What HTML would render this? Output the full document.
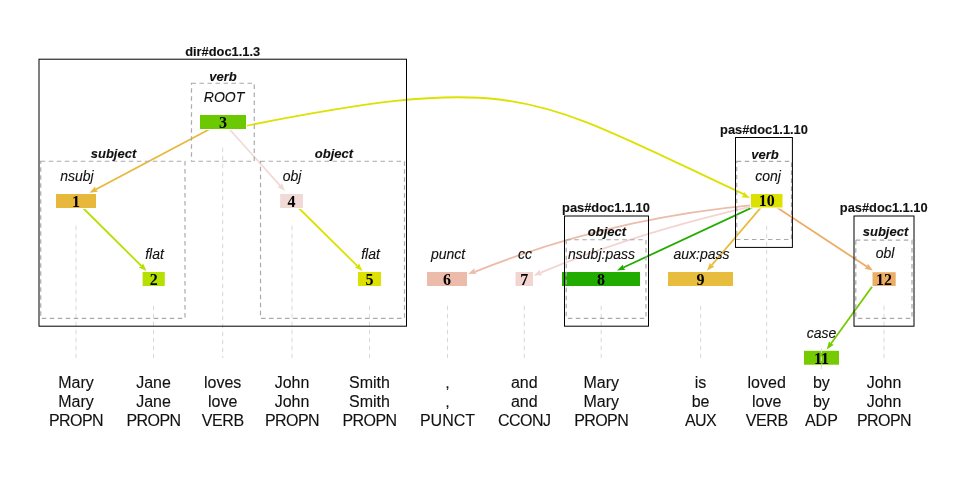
<!DOCTYPE html>
<html><head><meta charset="utf-8"><style>
html,body{margin:0;padding:0;background:#fff;}
body{width:960px;height:480px;overflow:hidden;}
svg{display:block;will-change:transform;}
.t{font-family:"Liberation Sans",sans-serif;stroke:#111;stroke-width:0.12px;}
</style></head><body>
<svg width="960" height="480" viewBox="0 0 960 480">

<line x1="223" y1="122" x2="95.68" y2="189.52" stroke="#E8B83C" stroke-width="1.8"/>
<path d="M89.5,192.8L95.16,186.4L95.68,189.52L97.97,191.7Z" fill="#E8B83C"/>
<line x1="76" y1="201" x2="141.53" y2="266.07" stroke="#B6E000" stroke-width="1.8"/>
<path d="M146.5,271L138.71,267.49L141.53,266.07L142.94,263.23Z" fill="#B6E000"/>
<line x1="223" y1="122" x2="280.32" y2="185.79" stroke="#F1D9D6" stroke-width="1.8"/>
<path d="M285,191L277.42,187.05L280.32,185.79L281.88,183.04Z" fill="#F1D9D6"/>
<line x1="291.6" y1="201" x2="357.52" y2="266.08" stroke="#DCE100" stroke-width="1.8"/>
<path d="M362.5,271L354.7,267.51L357.52,266.08L358.91,263.24Z" fill="#DCE100"/>
<line x1="766.75" y1="200.75" x2="623.35" y2="267.54" stroke="#22AC00" stroke-width="1.8"/>
<path d="M617,270.5L622.99,264.4L623.35,267.54L625.52,269.84Z" fill="#22AC00"/>
<line x1="766.75" y1="200.75" x2="711.54" y2="265.43" stroke="#E8BC3C" stroke-width="1.8"/>
<path d="M707,270.75L709.91,262.72L711.54,265.43L714.48,266.61Z" fill="#E8BC3C"/>
<line x1="766.75" y1="200.75" x2="867.05" y2="266.75" stroke="#ECAD66" stroke-width="1.8"/>
<path d="M872.9,270.6L864.57,268.71L867.05,266.75L867.87,263.7Z" fill="#ECAD66"/>
<line x1="877.6" y1="279" x2="830.89" y2="343.82" stroke="#76CA00" stroke-width="1.8"/>
<path d="M826.8,349.5L829.04,341.26L830.89,343.82L833.91,344.76Z" fill="#76CA00"/>
<path d="M241.98,126.59C520,71.33 528.92,93.85 744.07,194.34" fill="none" stroke="#DCE100" stroke-width="1.8"/>
<path d="M750,198L741.48,197.34L743.65,195.05L744.01,191.9Z" fill="#DCE100"/>
<path d="M474.78,271.79C563.48,236.2 656.9,213.92 755.05,204.94" fill="none" stroke="#EDBBAA" stroke-width="1.8"/>
<path d="M468.1,274L474.37,268.19L474.58,271.35L476.64,273.74Z" fill="#EDBBAA"/>
<path d="M540.22,272.94C600.36,247.19 671.96,224.75 755.02,205.6" fill="none" stroke="#F2D5D1" stroke-width="1.8"/>
<path d="M533.75,275.6L539.88,269.64L540.16,272.79L542.28,275.14Z" fill="#F2D5D1"/>
<rect x="55" y="193" width="42" height="16" fill="#fff"/>
<rect x="56" y="194" width="40" height="14" fill="#E8B83C"/>
<rect x="141.6" y="271" width="24.2" height="16" fill="#fff"/>
<rect x="142.6" y="272" width="22.2" height="14" fill="#B6E000"/>
<rect x="199" y="114" width="48" height="16" fill="#fff"/>
<rect x="200" y="115" width="46" height="14" fill="#6CC800"/>
<rect x="279.2" y="193" width="24.8" height="16" fill="#fff"/>
<rect x="280.2" y="194" width="22.8" height="14" fill="#F1D9D6"/>
<rect x="357" y="271" width="25" height="16" fill="#fff"/>
<rect x="358" y="272" width="23" height="14" fill="#DCE100"/>
<rect x="426" y="271" width="42" height="16" fill="#fff"/>
<rect x="427" y="272" width="40" height="14" fill="#EDBBAA"/>
<rect x="514.5" y="271" width="19.5" height="16" fill="#fff"/>
<rect x="515.5" y="272" width="17.5" height="14" fill="#F2D5D1"/>
<rect x="561" y="271" width="80" height="16" fill="#fff"/>
<rect x="562" y="272" width="78" height="14" fill="#22AC00"/>
<rect x="667" y="271" width="67" height="16" fill="#fff"/>
<rect x="668" y="272" width="65" height="14" fill="#E8BC3C"/>
<rect x="750" y="193" width="33.5" height="15.5" fill="#fff"/>
<rect x="751" y="194" width="31.5" height="13.5" fill="#DCE100"/>
<rect x="803" y="349.8" width="37" height="15.9" fill="#fff"/>
<rect x="804" y="350.8" width="35" height="13.9" fill="#76CA00"/>
<rect x="871.5" y="271.2" width="25.2" height="15.8" fill="#fff"/>
<rect x="872.5" y="272.2" width="23.2" height="13.8" fill="#ECAD66"/>
<line x1="76" y1="225.7" x2="76" y2="358" stroke="#d8d8d8" stroke-width="1" stroke-dasharray="4.5,3.5"/>
<line x1="153.5" y1="305.7" x2="153.5" y2="358" stroke="#d8d8d8" stroke-width="1" stroke-dasharray="4.5,3.5"/>
<line x1="222.7" y1="147.7" x2="222.7" y2="358" stroke="#d8d8d8" stroke-width="1" stroke-dasharray="4.5,3.5"/>
<line x1="292" y1="225.7" x2="292" y2="358" stroke="#d8d8d8" stroke-width="1" stroke-dasharray="4.5,3.5"/>
<line x1="369.5" y1="305.7" x2="369.5" y2="358" stroke="#d8d8d8" stroke-width="1" stroke-dasharray="4.5,3.5"/>
<line x1="447.5" y1="305.7" x2="447.5" y2="358" stroke="#d8d8d8" stroke-width="1" stroke-dasharray="4.5,3.5"/>
<line x1="524.3" y1="305.7" x2="524.3" y2="358" stroke="#d8d8d8" stroke-width="1" stroke-dasharray="4.5,3.5"/>
<line x1="601.2" y1="305.7" x2="601.2" y2="358" stroke="#d8d8d8" stroke-width="1" stroke-dasharray="4.5,3.5"/>
<line x1="700.6" y1="305.7" x2="700.6" y2="358" stroke="#d8d8d8" stroke-width="1" stroke-dasharray="4.5,3.5"/>
<line x1="766.7" y1="225.7" x2="766.7" y2="358" stroke="#d8d8d8" stroke-width="1" stroke-dasharray="4.5,3.5"/>
<line x1="821.4" y1="348.5" x2="821.4" y2="371" stroke="#d8d8d8" stroke-width="1" stroke-dasharray="4.5,3.5"/>
<line x1="884" y1="305.7" x2="884" y2="358" stroke="#d8d8d8" stroke-width="1" stroke-dasharray="4.5,3.5"/>
<text x="76" y="206.9" text-anchor="middle" font-family="Liberation Serif" font-weight="bold" font-size="16" fill="#000">1</text>
<text x="153.7" y="284.9" text-anchor="middle" font-family="Liberation Serif" font-weight="bold" font-size="16" fill="#000">2</text>
<text x="223" y="127.9" text-anchor="middle" font-family="Liberation Serif" font-weight="bold" font-size="16" fill="#000">3</text>
<text x="291.6" y="206.9" text-anchor="middle" font-family="Liberation Serif" font-weight="bold" font-size="16" fill="#000">4</text>
<text x="369.5" y="284.9" text-anchor="middle" font-family="Liberation Serif" font-weight="bold" font-size="16" fill="#000">5</text>
<text x="447" y="284.9" text-anchor="middle" font-family="Liberation Serif" font-weight="bold" font-size="16" fill="#000">6</text>
<text x="524.25" y="284.9" text-anchor="middle" font-family="Liberation Serif" font-weight="bold" font-size="16" fill="#000">7</text>
<text x="601" y="284.9" text-anchor="middle" font-family="Liberation Serif" font-weight="bold" font-size="16" fill="#000">8</text>
<text x="700.5" y="284.9" text-anchor="middle" font-family="Liberation Serif" font-weight="bold" font-size="16" fill="#000">9</text>
<text x="766.75" y="206.4" text-anchor="middle" font-family="Liberation Serif" font-weight="bold" font-size="16" fill="#000">10</text>
<text x="821.5" y="363.6" text-anchor="middle" font-family="Liberation Serif" font-weight="bold" font-size="16" fill="#000">11</text>
<text x="884.1" y="284.9" text-anchor="middle" font-family="Liberation Serif" font-weight="bold" font-size="16" fill="#000">12</text>
<rect x="191.5" y="83.25" width="62.75" height="78" fill="none" stroke="#aaa" stroke-width="1.2" stroke-dasharray="4.5,3.5"/>
<rect x="40.75" y="161.25" width="144.25" height="157.05" fill="none" stroke="#aaa" stroke-width="1.2" stroke-dasharray="4.5,3.5"/>
<rect x="260.5" y="161.25" width="144" height="157.05" fill="none" stroke="#aaa" stroke-width="1.2" stroke-dasharray="4.5,3.5"/>
<rect x="566.25" y="239.75" width="79.75" height="78.55" fill="none" stroke="#aaa" stroke-width="1.2" stroke-dasharray="4.5,3.5"/>
<rect x="736.75" y="161.3" width="54.75" height="78.2" fill="none" stroke="#aaa" stroke-width="1.2" stroke-dasharray="4.5,3.5"/>
<rect x="855.8" y="240.2" width="56.2" height="78.1" fill="none" stroke="#aaa" stroke-width="1.2" stroke-dasharray="4.5,3.5"/>
<rect x="39" y="59.2" width="367.5" height="267" fill="none" stroke="#000" stroke-width="1"/>
<rect x="564.5" y="216" width="84" height="110.2" fill="none" stroke="#000" stroke-width="1"/>
<rect x="735.5" y="137.5" width="56.9" height="109.9" fill="none" stroke="#000" stroke-width="1"/>
<rect x="854" y="216" width="60" height="110.2" fill="none" stroke="#000" stroke-width="1"/>
<text class="t" x="222.7" y="55.5" text-anchor="middle" font-size="12.85" font-weight="bold" fill="#111" stroke="none">dir#doc1.1.3</text>
<text class="t" x="606" y="211.7" text-anchor="middle" font-size="12.85" font-weight="bold" fill="#111" stroke="none">pas#doc1.1.10</text>
<text class="t" x="764" y="134.25" text-anchor="middle" font-size="12.85" font-weight="bold" fill="#111" stroke="none">pas#doc1.1.10</text>
<text class="t" x="883.7" y="211.9" text-anchor="middle" font-size="12.85" font-weight="bold" fill="#111" stroke="none">pas#doc1.1.10</text>
<text class="t" x="223" y="80.75" text-anchor="middle" font-size="13" font-weight="bold" font-style="italic" fill="#111" stroke="none">verb</text>
<text class="t" x="113.5" y="158" text-anchor="middle" font-size="13" font-weight="bold" font-style="italic" fill="#111" stroke="none">subject</text>
<text class="t" x="334" y="157.9" text-anchor="middle" font-size="13" font-weight="bold" font-style="italic" fill="#111" stroke="none">object</text>
<text class="t" x="607" y="235.7" text-anchor="middle" font-size="13" font-weight="bold" font-style="italic" fill="#111" stroke="none">object</text>
<text class="t" x="765" y="158.75" text-anchor="middle" font-size="13" font-weight="bold" font-style="italic" fill="#111" stroke="none">verb</text>
<text class="t" x="885.5" y="235.8" text-anchor="middle" font-size="13" font-weight="bold" font-style="italic" fill="#111" stroke="none">subject</text>
<text class="t" x="224" y="101.75" text-anchor="middle" font-size="14" font-style="italic" fill="#111">ROOT</text>
<text class="t" x="77" y="180.75" text-anchor="middle" font-size="14" font-style="italic" fill="#111">nsubj</text>
<text class="t" x="292" y="180.6" text-anchor="middle" font-size="14" font-style="italic" fill="#111">obj</text>
<text class="t" x="154.5" y="258.75" text-anchor="middle" font-size="14" font-style="italic" fill="#111">flat</text>
<text class="t" x="370.5" y="258.75" text-anchor="middle" font-size="14" font-style="italic" fill="#111">flat</text>
<text class="t" x="448" y="258.75" text-anchor="middle" font-size="14" font-style="italic" fill="#111">punct</text>
<text class="t" x="525" y="258.75" text-anchor="middle" font-size="14" font-style="italic" fill="#111">cc</text>
<text class="t" x="601.5" y="258.75" text-anchor="middle" font-size="14" font-style="italic" fill="#111">nsubj:pass</text>
<text class="t" x="701.5" y="258.75" text-anchor="middle" font-size="14" font-style="italic" fill="#111">aux:pass</text>
<text class="t" x="768" y="180.75" text-anchor="middle" font-size="14" font-style="italic" fill="#111">conj</text>
<text class="t" x="885" y="258" text-anchor="middle" font-size="14" font-style="italic" fill="#111">obl</text>
<text class="t" x="821.5" y="337.5" text-anchor="middle" font-size="14" font-style="italic" fill="#111">case</text>
<text class="t" x="76" y="387.5" text-anchor="middle" font-size="16" fill="#111">Mary</text>
<text class="t" x="76" y="406.5" text-anchor="middle" font-size="16" fill="#111">Mary</text>
<text class="t" x="76" y="425.5" text-anchor="middle" font-size="16" fill="#111" letter-spacing="-0.6">PROPN</text>
<text class="t" x="153.5" y="387.5" text-anchor="middle" font-size="16" fill="#111">Jane</text>
<text class="t" x="153.5" y="406.5" text-anchor="middle" font-size="16" fill="#111">Jane</text>
<text class="t" x="153.5" y="425.5" text-anchor="middle" font-size="16" fill="#111" letter-spacing="-0.6">PROPN</text>
<text class="t" x="222.7" y="387.5" text-anchor="middle" font-size="16" fill="#111">loves</text>
<text class="t" x="222.7" y="406.5" text-anchor="middle" font-size="16" fill="#111">love</text>
<text class="t" x="222.7" y="425.5" text-anchor="middle" font-size="16" fill="#111" letter-spacing="-0.4">VERB</text>
<text class="t" x="292" y="387.5" text-anchor="middle" font-size="16" fill="#111">John</text>
<text class="t" x="292" y="406.5" text-anchor="middle" font-size="16" fill="#111">John</text>
<text class="t" x="292" y="425.5" text-anchor="middle" font-size="16" fill="#111" letter-spacing="-0.6">PROPN</text>
<text class="t" x="369.5" y="387.5" text-anchor="middle" font-size="16" fill="#111">Smith</text>
<text class="t" x="369.5" y="406.5" text-anchor="middle" font-size="16" fill="#111">Smith</text>
<text class="t" x="369.5" y="425.5" text-anchor="middle" font-size="16" fill="#111" letter-spacing="-0.6">PROPN</text>
<text class="t" x="447.5" y="387.5" text-anchor="middle" font-size="16" fill="#111">,</text>
<text class="t" x="447.5" y="406.5" text-anchor="middle" font-size="16" fill="#111">,</text>
<text class="t" x="447.5" y="425.5" text-anchor="middle" font-size="16" fill="#111">PUNCT</text>
<text class="t" x="524.3" y="387.5" text-anchor="middle" font-size="16" fill="#111">and</text>
<text class="t" x="524.3" y="406.5" text-anchor="middle" font-size="16" fill="#111">and</text>
<text class="t" x="524.3" y="425.5" text-anchor="middle" font-size="16" fill="#111" letter-spacing="-0.5">CCONJ</text>
<text class="t" x="601.2" y="387.5" text-anchor="middle" font-size="16" fill="#111">Mary</text>
<text class="t" x="601.2" y="406.5" text-anchor="middle" font-size="16" fill="#111">Mary</text>
<text class="t" x="601.2" y="425.5" text-anchor="middle" font-size="16" fill="#111" letter-spacing="-0.6">PROPN</text>
<text class="t" x="700.6" y="387.5" text-anchor="middle" font-size="16" fill="#111">is</text>
<text class="t" x="700.6" y="406.5" text-anchor="middle" font-size="16" fill="#111">be</text>
<text class="t" x="700.6" y="425.5" text-anchor="middle" font-size="16" fill="#111" letter-spacing="-0.5">AUX</text>
<text class="t" x="766.7" y="387.5" text-anchor="middle" font-size="16" fill="#111">loved</text>
<text class="t" x="766.7" y="406.5" text-anchor="middle" font-size="16" fill="#111">love</text>
<text class="t" x="766.7" y="425.5" text-anchor="middle" font-size="16" fill="#111" letter-spacing="-0.4">VERB</text>
<text class="t" x="821.4" y="387.5" text-anchor="middle" font-size="16" fill="#111">by</text>
<text class="t" x="821.4" y="406.5" text-anchor="middle" font-size="16" fill="#111">by</text>
<text class="t" x="821.4" y="425.5" text-anchor="middle" font-size="16" fill="#111">ADP</text>
<text class="t" x="884" y="387.5" text-anchor="middle" font-size="16" fill="#111">John</text>
<text class="t" x="884" y="406.5" text-anchor="middle" font-size="16" fill="#111">John</text>
<text class="t" x="884" y="425.5" text-anchor="middle" font-size="16" fill="#111" letter-spacing="-0.6">PROPN</text>
</svg></body></html>
